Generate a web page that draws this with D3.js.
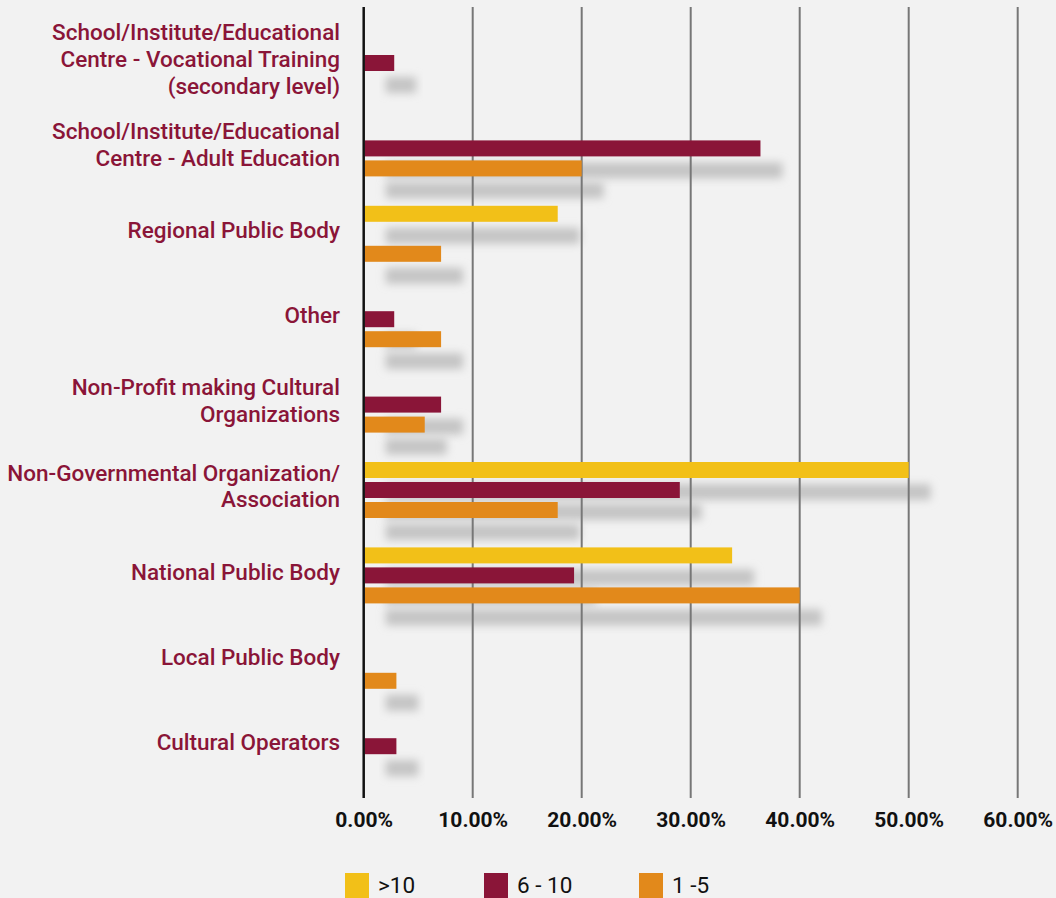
<!DOCTYPE html>
<html><head><meta charset="utf-8">
<script src="https://cdn.jsdelivr.net/npm/d3@7"></script>
<style>body{margin:0;background:#f2f2f2;} svg{display:block}</style>
</head><body><svg id="chart" width="1056" height="898"></svg>
<script>
const categories = [
  "School/Institute/Educational|Centre - Vocational Training|(secondary level)",
  "School/Institute/Educational|Centre - Adult Education",
  "Regional Public Body",
  "Other",
  "Non-Profit making Cultural|Organizations",
  "Non-Governmental Organization/|Association",
  "National Public Body",
  "Local Public Body",
  "Cultural Operators"
];
const seriesNames = [">10", "6 - 10", "1 -5"];
const over10   = [null, null, 17.8, null, null, 50.0, 33.8, null, null];
const sixToTen = [2.8, 36.4, null, 2.8, 7.1, 29.0, 19.3, null, 3.0];
const oneToFive= [null, 20.0, 7.1, 7.1, 5.6, 17.8, 40.0, 3.0, null];
const seriesColors = ["#f2c018", "#8a1538", "#e2891b"];
const tickValues = [0, 10, 20, 30, 40, 50, 60];
const tickLabels = ["0.00%", "10.00%", "20.00%", "30.00%", "40.00%", "50.00%", "60.00%"];

const seriesValues = [over10, sixToTen, oneToFive];
const svg = d3.select("#chart");
svg.append("rect").attr("width", 1056).attr("height", 898).attr("fill", "#f2f2f2");

const x = d3.scaleLinear().domain([0, 60]).range([363.7, 1017.7]);
const y = d3.scaleBand().domain(categories).range([20.3, 788.9]).paddingInner(0).paddingOuter(0);
const inner = d3.scaleBand().domain(seriesNames).range([0, 56]).paddingInner(0.2).paddingOuter(0);
const groupOffset = (y.bandwidth() - 56) / 2;

const defs = svg.append("defs");
defs.append("filter").attr("id", "blur").attr("x", "-20%").attr("y", "-150%").attr("width", "140%").attr("height", "400%")
  .append("feGaussianBlur").attr("stdDeviation", 4.5);

const barData = [];
categories.forEach((c, i) => {
  seriesNames.forEach((s, j) => {
    const v = seriesValues[j][i];
    if (v != null) barData.push({cat: c, series: s, value: v, color: seriesColors[j]});
  });
});

// shadows
svg.append("g").selectAll("rect").data(barData).join("rect")
  .attr("x", d => x(0) + 22)
  .attr("y", d => y(d.cat) + groupOffset + inner(d.series) + 22)
  .attr("width", d => x(d.value) - x(0))
  .attr("height", inner.bandwidth())
  .attr("fill", "#c4c4c4")
  .attr("filter", "url(#blur)");

// gridlines
svg.append("g").selectAll("line").data(tickValues.filter(t => t > 0)).join("line")
  .attr("x1", d => x(d)).attr("x2", d => x(d))
  .attr("y1", 7).attr("y2", 798)
  .attr("stroke", "#777").attr("stroke-width", 2);

// bars
svg.append("g").selectAll("rect").data(barData).join("rect")
  .attr("x", x(0) + 1)
  .attr("y", d => y(d.cat) + groupOffset + inner(d.series))
  .attr("width", d => x(d.value) - x(0) - 1)
  .attr("height", inner.bandwidth())
  .attr("fill", d => d.color);

// zero axis
svg.append("line").attr("x1", x(0)).attr("x2", x(0)).attr("y1", 7).attr("y2", 798)
  .attr("stroke", "#111").attr("stroke-width", 2.5);

// category labels
const lh = 26.7;
const labels = svg.append("g").attr("font-family", "Roboto, 'DejaVu Sans', sans-serif")
  .attr("font-weight", 500).attr("font-size", 22.5).attr("fill", "#8a1538").attr("text-anchor", "end");
categories.forEach(c => {
  const lines = c.split("|");
  const cy = y(c) + groupOffset + 28 - 4;
  const t = labels.append("text").attr("x", 340);
  lines.forEach((ln, k) => {
    t.append("tspan").attr("x", 340)
      .attr("y", cy + (k - (lines.length - 1) / 2) * lh)
      .attr("dy", "0.36em").text(ln);
  });
});

// x axis tick labels
const xAxis = d3.axisBottom(x).tickValues(tickValues).tickSize(0).tickFormat((d, i) => tickLabels[i]);
const gx = svg.append("g").attr("transform", "translate(0,811)").call(xAxis);
gx.select(".domain").remove();
gx.selectAll("text").attr("font-family", "Roboto, sans-serif").attr("font-weight", 700)
  .attr("font-size", 21).attr("fill", "#111").attr("dy", "0.76em").attr("y", 0);

// legend
const legendX = [345, 484, 639];
const lg = svg.append("g");
seriesNames.forEach((s, j) => {
  lg.append("rect").attr("x", legendX[j]).attr("y", 873).attr("width", 24).attr("height", 25).attr("fill", seriesColors[j]);
  lg.append("text").attr("x", legendX[j] + 33).attr("y", 893)
    .attr("font-family", "Roboto, sans-serif").attr("font-size", 22.5).attr("fill", "#111").text(s);
});
</script>
</body></html>
